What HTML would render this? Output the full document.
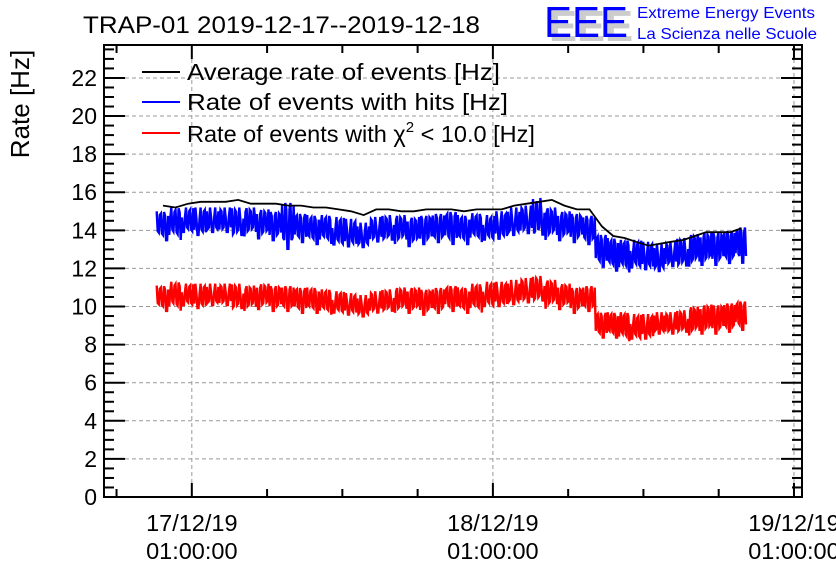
<!DOCTYPE html>
<html><head><meta charset="utf-8"><style>
body{margin:0;background:#fff;}
svg{display:block;font-family:"Liberation Sans",sans-serif;}
</style></head><body>
<svg id="chart" width="836" height="572" viewBox="0 0 836 572">
<g id="grid"></g>
<g id="series"></g>
<g id="axes"></g>
<text x="83" y="33" font-size="24" textLength="397" lengthAdjust="spacingAndGlyphs">TRAP-01 2019-12-17--2019-12-18</text>
<text transform="translate(29,104) rotate(-90)" font-size="26" text-anchor="middle">Rate [Hz]</text>
<g>
<text x="549" y="41" font-size="44" fill="#ccc" font-weight="bold" textLength="84" lengthAdjust="spacingAndGlyphs">EEE</text>
<text x="544" y="37" font-size="44" fill="#0000ff" textLength="84" lengthAdjust="spacingAndGlyphs">EEE</text>
<text x="637" y="18" font-size="16" fill="#0000ff" textLength="178" lengthAdjust="spacingAndGlyphs">Extreme Energy Events</text>
<text x="637" y="39" font-size="16" fill="#0000ff" textLength="180" lengthAdjust="spacingAndGlyphs">La Scienza nelle Scuole</text>
</g>
<g font-size="23.5">
<line x1="142" y1="72" x2="180" y2="72" stroke="#000" stroke-width="2"/>
<text x="187" y="80" textLength="313" lengthAdjust="spacingAndGlyphs">Average rate of events [Hz]</text>
<line x1="142" y1="102" x2="180" y2="102" stroke="#00f" stroke-width="2"/>
<text x="187" y="110" textLength="321" lengthAdjust="spacingAndGlyphs">Rate of events with hits [Hz]</text>
<line x1="142" y1="133" x2="180" y2="133" stroke="#f00" stroke-width="2"/>
<text x="187" y="142">Rate of events with χ<tspan dy="-10" font-size="15">2</tspan><tspan dy="10"> &lt; 10.0 [Hz]</tspan></text>
</g>
</svg>
<script>
// hours since 16/12/19 18:00 (bin centers)
const hours = [4.7,5.7,6.7,7.7,8.7,9.7,10.7,11.7,12.7,13.7,14.7,15.7,16.7,17.7,18.7,19.7,20.7,21.7,22.7,23.7,24.7,25.7,26.7,27.7,28.7,29.7,30.7,31.7,32.7,33.7,34.7,35.7,36.7,37.7,38.7,39.7,40.6,41.5,42.4,43.4,44.3,45.2,46.2,47.1,48.0,49.0,49.9,50.8];
const avgRate = [15.3,15.2,15.4,15.5,15.5,15.5,15.6,15.4,15.4,15.4,15.3,15.3,15.2,15.2,15.1,15.0,14.8,15.1,15.1,15.0,15.0,15.1,15.1,15.1,15.0,15.1,15.1,15.1,15.3,15.4,15.5,15.6,15.3,15.1,15.1,14.2,13.7,13.6,13.4,13.2,13.3,13.4,13.5,13.7,13.9,13.9,13.9,14.1];
const hitsRate = [14.2,14.3,14.4,14.3,14.4,14.4,14.3,14.4,14.3,14.2,14.2,14.1,14.0,14.0,13.8,13.7,13.6,13.9,14.0,14.0,13.9,14.0,14.1,14.1,14.0,14.1,14.0,14.1,14.3,14.4,14.5,14.3,14.2,14.1,14.0,12.9,12.7,12.6,12.6,12.5,12.4,12.6,12.7,12.9,13.0,13.0,13.1,13.2];
const hitsSpread = [0.8,0.9,0.8,0.9,0.8,0.8,0.9,0.8,0.8,0.8,1.3,0.8,0.8,0.8,0.9,0.9,0.8,0.8,0.8,0.8,0.8,0.8,0.8,0.9,0.8,0.8,0.8,0.9,0.9,0.9,1.2,0.9,0.8,0.8,0.8,0.9,0.9,0.9,0.9,0.9,0.9,0.8,0.9,0.9,0.9,0.9,0.9,1.0];
const chi2Rate = [10.4,10.5,10.5,10.4,10.5,10.5,10.4,10.4,10.5,10.4,10.4,10.3,10.3,10.2,10.1,10.0,9.9,10.1,10.2,10.3,10.3,10.2,10.3,10.4,10.3,10.4,10.5,10.5,10.6,10.7,10.8,10.6,10.5,10.3,10.4,9.0,9.0,8.9,8.8,8.8,9.0,9.0,9.1,9.2,9.3,9.3,9.4,9.5];
const chi2Spread = [0.7,0.8,0.7,0.8,0.7,0.7,0.8,0.7,0.7,0.7,0.7,0.7,0.7,0.7,0.7,0.7,0.7,0.7,0.7,0.7,0.7,0.7,0.7,0.7,0.7,0.8,0.8,0.8,0.8,0.8,0.8,0.8,0.7,0.7,0.7,0.7,0.7,0.8,0.8,0.8,0.7,0.7,0.7,0.8,0.8,0.8,0.8,0.8];
const yTicks = [0,2,4,6,8,10,12,14,16,18,20,22];
const xTickHours = [7,31,55];
const xTickLabels = [["17/12/19","01:00:00"],["18/12/19","01:00:00"],["19/12/19","01:00:00"]];

const L=104,R=802,T=45,B=497,YMAX=23.73,HMAX=55.64;
const X=h=>L+(R-L)*h/HMAX;
const Y=v=>B-(B-T)*v/YMAX;
const NS='http://www.w3.org/2000/svg';
function mk(parent,tag,attrs){const e=document.createElementNS(NS,tag);for(const k in attrs)e.setAttribute(k,attrs[k]);parent.appendChild(e);return e;}
const grid=document.getElementById('grid'),ser=document.getElementById('series'),ax=document.getElementById('axes');

yTicks.forEach(v=>{if(v===0)return;
 const g=mk(grid,'line',{x1:L,x2:R,y1:Y(v),y2:Y(v),stroke:'#999','stroke-dasharray':'4,3','stroke-width':1});
 
 });
xTickHours.forEach(h=>{
 const g=mk(grid,'line',{x1:X(h),x2:X(h),y1:T,y2:B,stroke:'#999','stroke-dasharray':'4,3','stroke-width':1});
 
 });

const pat=[1,0.45,0.85,0.3,0.7,0.6,0.95,0.4,0.75,0.55,0.35,0.9];
function noisy(center,spread,color,name){
 let d='';
 center.forEach((c,i)=>{
  const lo=i>0?(X(hours[i-1])+X(hours[i]))/2:X(hours[i])-(X(hours[1])-X(hours[0]))/2;
  const hi=i<hours.length-1?(X(hours[i])+X(hours[i+1]))/2:X(hours[i])+(X(hours[i])-X(hours[i-1]))/2;
  const w=hi-lo;
  for(let k=0;k<6;k++){
   const x=lo+k*w/6;
   const up=((k+i)%2===0);
   const v1=c+(up?1:-1)*spread[i]*pat[(k*7+i*5)%12], v2=c-(up?1:-1)*spread[i]*pat[(k*5+i*7+3)%12];
   d+=(d?'L':'M')+x.toFixed(1)+','+Y(v1).toFixed(1)+'L'+(x+w/12).toFixed(1)+','+Y(v2).toFixed(1);
  }
 });
 const p=mk(ser,'path',{d:d,fill:'none',stroke:color,'stroke-width':2.4});
 
 
}
noisy(chi2Rate,chi2Spread,'#f00','chi2-rate-series');
noisy(hitsRate,hitsSpread,'#00f','hits-rate-series');
const avg=mk(ser,'polyline',{points:avgRate.map((v,i)=>X(hours[i]).toFixed(1)+','+Y(v).toFixed(1)).join(' '),fill:'none',stroke:'#000','stroke-width':1.8});



const fr=mk(ax,'rect',{x:L,y:T,width:R-L,height:B-T,fill:'none',stroke:'#000','stroke-width':2});


for(let v=0;v<=23.5;v+=0.5){
 const major=(v%2===0),len=major?21:10;
 mk(ax,'line',{x1:L,x2:L+len,y1:Y(v),y2:Y(v),stroke:'#000','stroke-width':2});
 mk(ax,'line',{x1:R,x2:R-len,y1:Y(v),y2:Y(v),stroke:'#000','stroke-width':2});
}
yTicks.forEach(v=>{
 const t=mk(ax,'text',{x:97,y:Y(v)+8,'font-size':23,'text-anchor':'end'});
 t.textContent=v;
 
 });
for(let h=1;h<HMAX;h+=6){
 const major=xTickHours.includes(h),len=major?14:8;
 mk(ax,'line',{x1:X(h),x2:X(h),y1:B,y2:B-len,stroke:'#000','stroke-width':2});
 mk(ax,'line',{x1:X(h),x2:X(h),y1:T,y2:T+len,stroke:'#000','stroke-width':2});
}
xTickHours.forEach((h,i)=>{
 xTickLabels[i].forEach((s,j)=>{
  const t=mk(ax,'text',{x:X(h),y:531+j*28,'font-size':23.5,'text-anchor':'middle'});
  t.textContent=s;
  
  
 });
});
</script>
</body></html>
